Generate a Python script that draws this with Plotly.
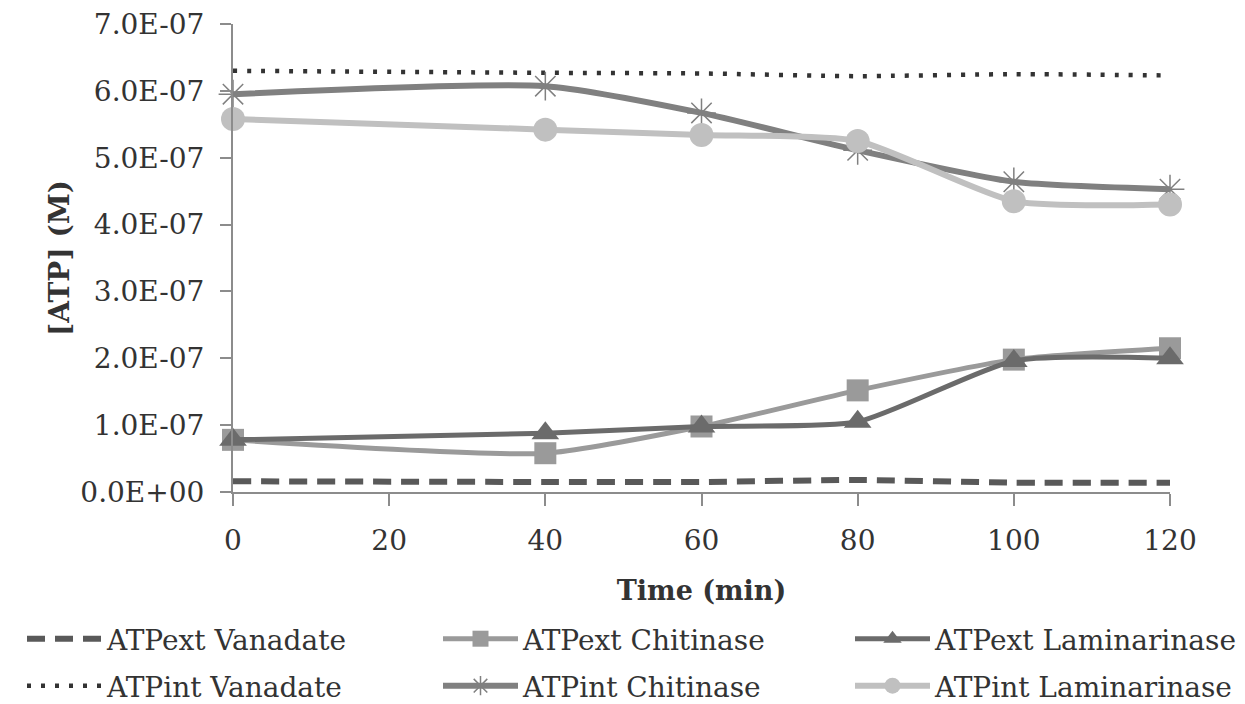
import plotly.graph_objects as go

time_min = [0, 40, 60, 80, 100, 120]
atpext_vanadate = [1.6e-08, 1.5e-08, 1.5e-08, 1.8e-08, 1.4e-08, 1.4e-08]
atpext_chitinase = [7.8e-08, 5.8e-08, 9.8e-08, 1.52e-07, 1.98e-07, 2.15e-07]
atpext_laminarinase = [7.8e-08, 8.8e-08, 9.8e-08, 1.05e-07, 1.96e-07, 2.0e-07]
atpint_vanadate = [6.30e-07, 6.27e-07, 6.26e-07, 6.22e-07, 6.25e-07, 6.23e-07]
atpint_chitinase = [5.95e-07, 6.07e-07, 5.67e-07, 5.11e-07, 4.64e-07, 4.53e-07]
atpint_laminarinase = [5.58e-07, 5.42e-07, 5.34e-07, 5.25e-07, 4.35e-07, 4.30e-07]

y_tickvals = [0, 1e-07, 2e-07, 3e-07, 4e-07, 5e-07, 6e-07, 7e-07]
y_ticktext = ["0.0E+00", "1.0E-07", "2.0E-07", "3.0E-07", "4.0E-07",
              "5.0E-07", "6.0E-07", "7.0E-07"]
x_tickvals = [0, 20, 40, 60, 80, 100, 120]

FONT = "DejaVu Serif"
TXT = "#333333"

fig = go.Figure()

def add(name, y, color, width, legend, dash=None, symbol=None, msize=0):
    mode = "lines+markers" if symbol else "lines"
    marker = None
    if symbol:
        if symbol == "asterisk-open":
            marker = dict(symbol=symbol, size=msize, color=color,
                          line=dict(color=color, width=1.5))
        else:
            marker = dict(symbol=symbol, size=msize, color=color, line=dict(width=0))
    fig.add_trace(go.Scatter(
        x=time_min, y=y, name=name, mode=mode,
        line=dict(color=color, width=width, shape="spline", smoothing=0.6,
                  dash=dash),
        marker=marker, cliponaxis=False, legend=legend))

add("ATPext Vanadate", atpext_vanadate, "#595959", 6, "legend", dash="18px,10px")
add("ATPext Chitinase", atpext_chitinase, "#9a9a9a", 5, "legend2", symbol="square", msize=22)
add("ATPext Laminarinase", atpext_laminarinase, "#6b6b6b", 5, "legend3",
    symbol="triangle-up", msize=24)
add("ATPint Vanadate", atpint_vanadate, "#333333", 4.5, "legend4", dash="4px,10px")
add("ATPint Chitinase", atpint_chitinase, "#808080", 6, "legend5",
    symbol="asterisk-open", msize=24)
add("ATPint Laminarinase", atpint_laminarinase, "#c0c0c0", 6, "legend6",
    symbol="circle", msize=24)

PLOT_L, PLOT_W, PLOT_B, PLOT_H = 233, 937, 492, 468

def px_x(p):
    return (p - PLOT_L) / PLOT_W

def px_y(p):
    return (PLOT_B - p) / PLOT_H

def leg(xp, yp):
    return dict(
        x=px_x(xp), y=px_y(yp), orientation="h", xanchor="left", yanchor="middle",
        font=dict(family=FONT, size=28, color=TXT),
        bgcolor="rgba(0,0,0,0)", itemwidth=75,
    )

col_x = [22, 438, 850]
row_y = [639, 686]

fig.update_layout(
    width=1245, height=704,
    margin=dict(l=233, r=75, t=24, b=212, autoexpand=False),
    paper_bgcolor="white", plot_bgcolor="white",
    font=dict(family=FONT, size=28, color=TXT),
    showlegend=True,
    legend=leg(col_x[0], row_y[0]),
    legend2=leg(col_x[1], row_y[0]),
    legend3=leg(col_x[2], row_y[0]),
    legend4=leg(col_x[0], row_y[1]),
    legend5=leg(col_x[1], row_y[1]),
    legend6=leg(col_x[2], row_y[1]),
    xaxis=dict(
        range=[0, 120], tickvals=x_tickvals, showline=True, linecolor="#8c8c8c",
        linewidth=2, ticks="outside", ticklen=12, tickwidth=1.5, tickcolor="#8c8c8c",
        showgrid=False, zeroline=False, ticklabelstandoff=10, automargin=False,
        tickfont=dict(family=FONT, size=28, color=TXT),
        title=dict(text="<b>Time (min)</b>", standoff=26,
                   font=dict(family=FONT, size=27, color=TXT)),
    ),
    yaxis=dict(
        range=[0, 7e-07], tickvals=y_tickvals, ticktext=y_ticktext, showline=True,
        linecolor="#8c8c8c", linewidth=2, ticks="outside", ticklen=11, tickwidth=1.5,
        tickcolor="#8c8c8c", showgrid=False, zeroline=False, ticklabelstandoff=10,
        automargin=False,
        tickfont=dict(family=FONT, size=28, color=TXT),
        title=dict(text="<b>[ATP] (M)</b>", standoff=3,
                   font=dict(family=FONT, size=28, color=TXT)),
    ),
)

fig.write_html("out.html", config={"displayModeBar": False},
               post_script="document.body.style.margin='0';document.body.style.overflow='hidden';")
